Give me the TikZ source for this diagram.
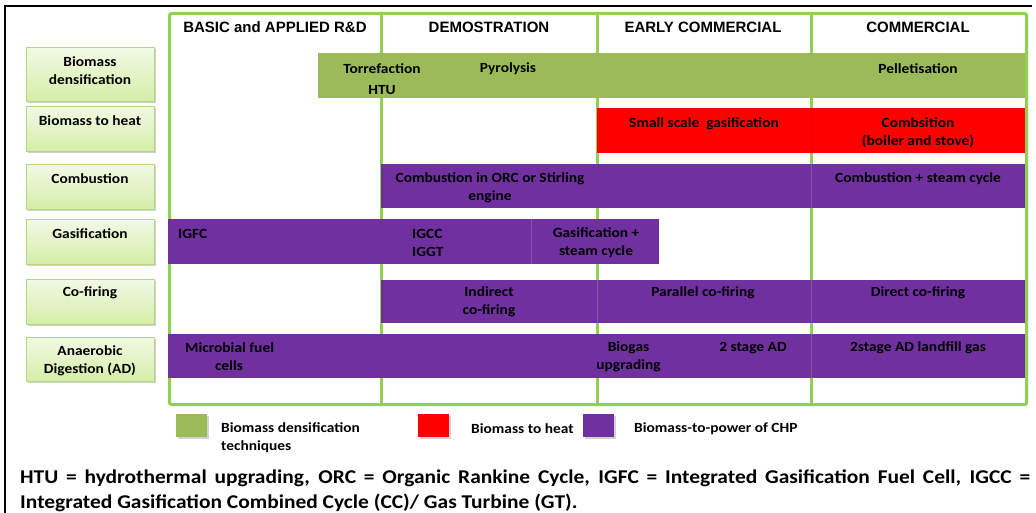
\documentclass[tikz,border=0pt]{standalone}
\usepackage{fontspec}
\setmainfont{Carlito}[FakeStretch=1.1]
\newfontfamily\hdrfont{Liberation Sans}
\usetikzlibrary{shadows}

\definecolor{framegreen}{RGB}{146,208,80}
\definecolor{bargreen}{RGB}{155,187,89}
\definecolor{barred}{RGB}{255,0,0}
\definecolor{barpurple}{RGB}{112,48,160}
\definecolor{sepurple}{RGB}{134,82,174}
\definecolor{lbltop}{RGB}{242,249,230}
\definecolor{lblbot}{RGB}{212,238,166}
\definecolor{lblborder}{RGB}{178,214,130}

\tikzset{
  body/.style={font=\bfseries\fontsize{14}{18}\selectfont, inner sep=0pt, align=center, yshift=-1pt},
  hdr/.style={font=\hdrfont\bfseries\fontsize{15}{17}\selectfont, inner sep=0pt},
  lbl/.style={draw=lblborder, line width=0.8pt, top color=lbltop, bottom color=lblbot,
    minimum width=128pt, anchor=north west, inner sep=0pt,
    drop shadow={shadow xshift=1.5pt, shadow yshift=-1.5pt, opacity=0.35}},
  bar/.style={draw=none, anchor=north west, inner sep=0pt},
  barsep/.style={draw=sepurple, line width=0.6pt},
  key/.style={draw=none, anchor=north west, inner sep=0pt, minimum width=31pt, minimum height=23pt,
    drop shadow={shadow xshift=1.5pt, shadow yshift=-1.5pt, opacity=0.35}},
  colline/.style={draw=framegreen, line width=3pt},
}

\begin{document}
\begin{tikzpicture}[x=1pt,y=-1pt]
\useasboundingbox (0,0) rectangle (1036,513);
\fill[white] (0,0) rectangle (1036,513);

% outer black border
\draw[line width=1.2pt] (5,513) -- (5,6) -- (1032,6);

% stage frame with its column separators
\node[draw=framegreen, line width=3pt, rounded corners=2pt, anchor=north west, inner sep=0pt,
  minimum width=857pt, minimum height=391pt,
  drop shadow={shadow xshift=1.5pt, shadow yshift=-1.5pt, opacity=0.25}, fill=white] (frame) at (168,12) {};
\draw[colline] (381,12) -- (381,403);
\draw[colline] (597,12) -- (597,403);
\draw[colline] (811,12) -- (811,403);

% stage headings
\node[hdr] (h1) at (275,27) {BASIC and APPLIED R\&D};
\node[hdr] (h2) at (489,27) {DEMOSTRATION};
\node[hdr] (h3) at (703,27) {EARLY COMMERCIAL};
\node[hdr] (h4) at (918,27) {COMMERCIAL};

% row labels
\node[lbl, minimum height=54pt] (l1) at (26,47) {};
\node[body] at (90,69.5) {Biomass\\densification};
\node[lbl, minimum height=45pt] (l2) at (26,106) {};
\node[body] at (90,120) {Biomass to heat};
\node[lbl, minimum height=45pt] (l3) at (26,164) {};
\node[body] at (90,178) {Combustion};
\node[lbl, minimum height=45pt] (l4) at (26,219) {};
\node[body] at (90,233) {Gasification};
\node[lbl, minimum height=45pt] (l5) at (26,279) {};
\node[body] at (90,292) {Co-firing};
\node[lbl, minimum height=44pt] (l6) at (26,337) {};
\node[body] at (90,360) {Anaerobic\\Digestion (AD)};

% densification bar
\node[bar, fill=bargreen, minimum width=707pt, minimum height=45pt] (bdens) at (318,53) {};
\node[body] (torr) at (382,68) {Torrefaction};
\node[body] (htu) at (382,89) {HTU};
\node[body] (pyro) at (508,68) {Pyrolysis};
\node[body] (pell) at (918,68) {Pelletisation};

% heat bar
\node[bar, fill=barred, minimum width=428pt, minimum height=45pt] (bheat) at (597,108) {};
\draw[draw=red!85!black, line width=0.4pt, opacity=0.4] (811,108) -- (811,153);
\node[body] (ssg) at (704,123) {Small scale\ \ gasification};
\node[body] (cbs) at (918,132) {Combsition\\(boiler and stove)};

% combustion bar
\node[bar, fill=barpurple, minimum width=644pt, minimum height=44pt] (bcomb) at (381,164) {};
\draw[barsep] (811,164) -- (811,208);
\node[body] (orc) at (490,187) {Combustion in ORC or Stirling\\engine};
\node[body] (csc) at (918,178) {Combustion + steam cycle};

% gasification bar
\node[bar, fill=barpurple, minimum width=491pt, minimum height=45pt] (bgas) at (168,219) {};
\draw[barsep] (531,219) -- (531,264);
\node[body, anchor=west] (igfc) at (178,233) {IGFC};
\node[body, align=left, anchor=west] (igcc) at (412,242) {IGCC\\IGGT};
\node[body] (gsc) at (596,242) {Gasification +\\steam cycle};

% co-firing bar
\node[bar, fill=barpurple, minimum width=644pt, minimum height=43pt] (bcof) at (381,280) {};
\draw[barsep] (597,280) -- (597,323);
\draw[barsep] (811,280) -- (811,323);
\node[body] (ind) at (489,301) {Indirect\\co-firing};
\node[body] (par) at (703,292) {Parallel co-firing};
\node[body] (dir) at (918,292) {Direct co-firing};

% anaerobic digestion bar
\node[bar, fill=barpurple, minimum width=857pt, minimum height=44pt] (bad) at (168,334) {};
\draw[barsep] (811,334) -- (811,378);
\node[body, anchor=west] (mfc1) at (185,347) {Microbial fuel};
\node[body] (mfc2) at (229,365) {cells};
\node[body] (bio1) at (628.5,347) {Biogas};
\node[body] (bio2) at (628.5,365) {upgrading};
\node[body] (ad2) at (753,347) {2 stage AD};
\node[body] (adl) at (918,347) {2stage AD landfill gas};

% legend
\node[key, fill=bargreen] (k1) at (176,414) {};
\node[body, align=left, anchor=north west] (k1t) at (221,421) {Biomass densification\\techniques};
\node[key, fill=barred] (k2) at (418,414) {};
\node[body, anchor=west] (k2t) at (471,428) {Biomass to heat};
\node[key, fill=barpurple] (k3) at (583,414) {};
\node[body, anchor=west] (k3t) at (634,428) {Biomass-to-power of CHP};

% abbreviations
\node[font=\bfseries\fontsize{19.5}{25}\selectfont, text width=1010pt, align=justify, inner sep=0pt,
  anchor=north west] (note) at (20,470) {HTU = hydrothermal upgrading, ORC = Organic Rankine Cycle, IGFC = Integrated Gasification Fuel Cell, IGCC =\linebreak Integrated Gasification Combined Cycle (CC)/ Gas Turbine (GT).};
\end{tikzpicture}
\end{document}
